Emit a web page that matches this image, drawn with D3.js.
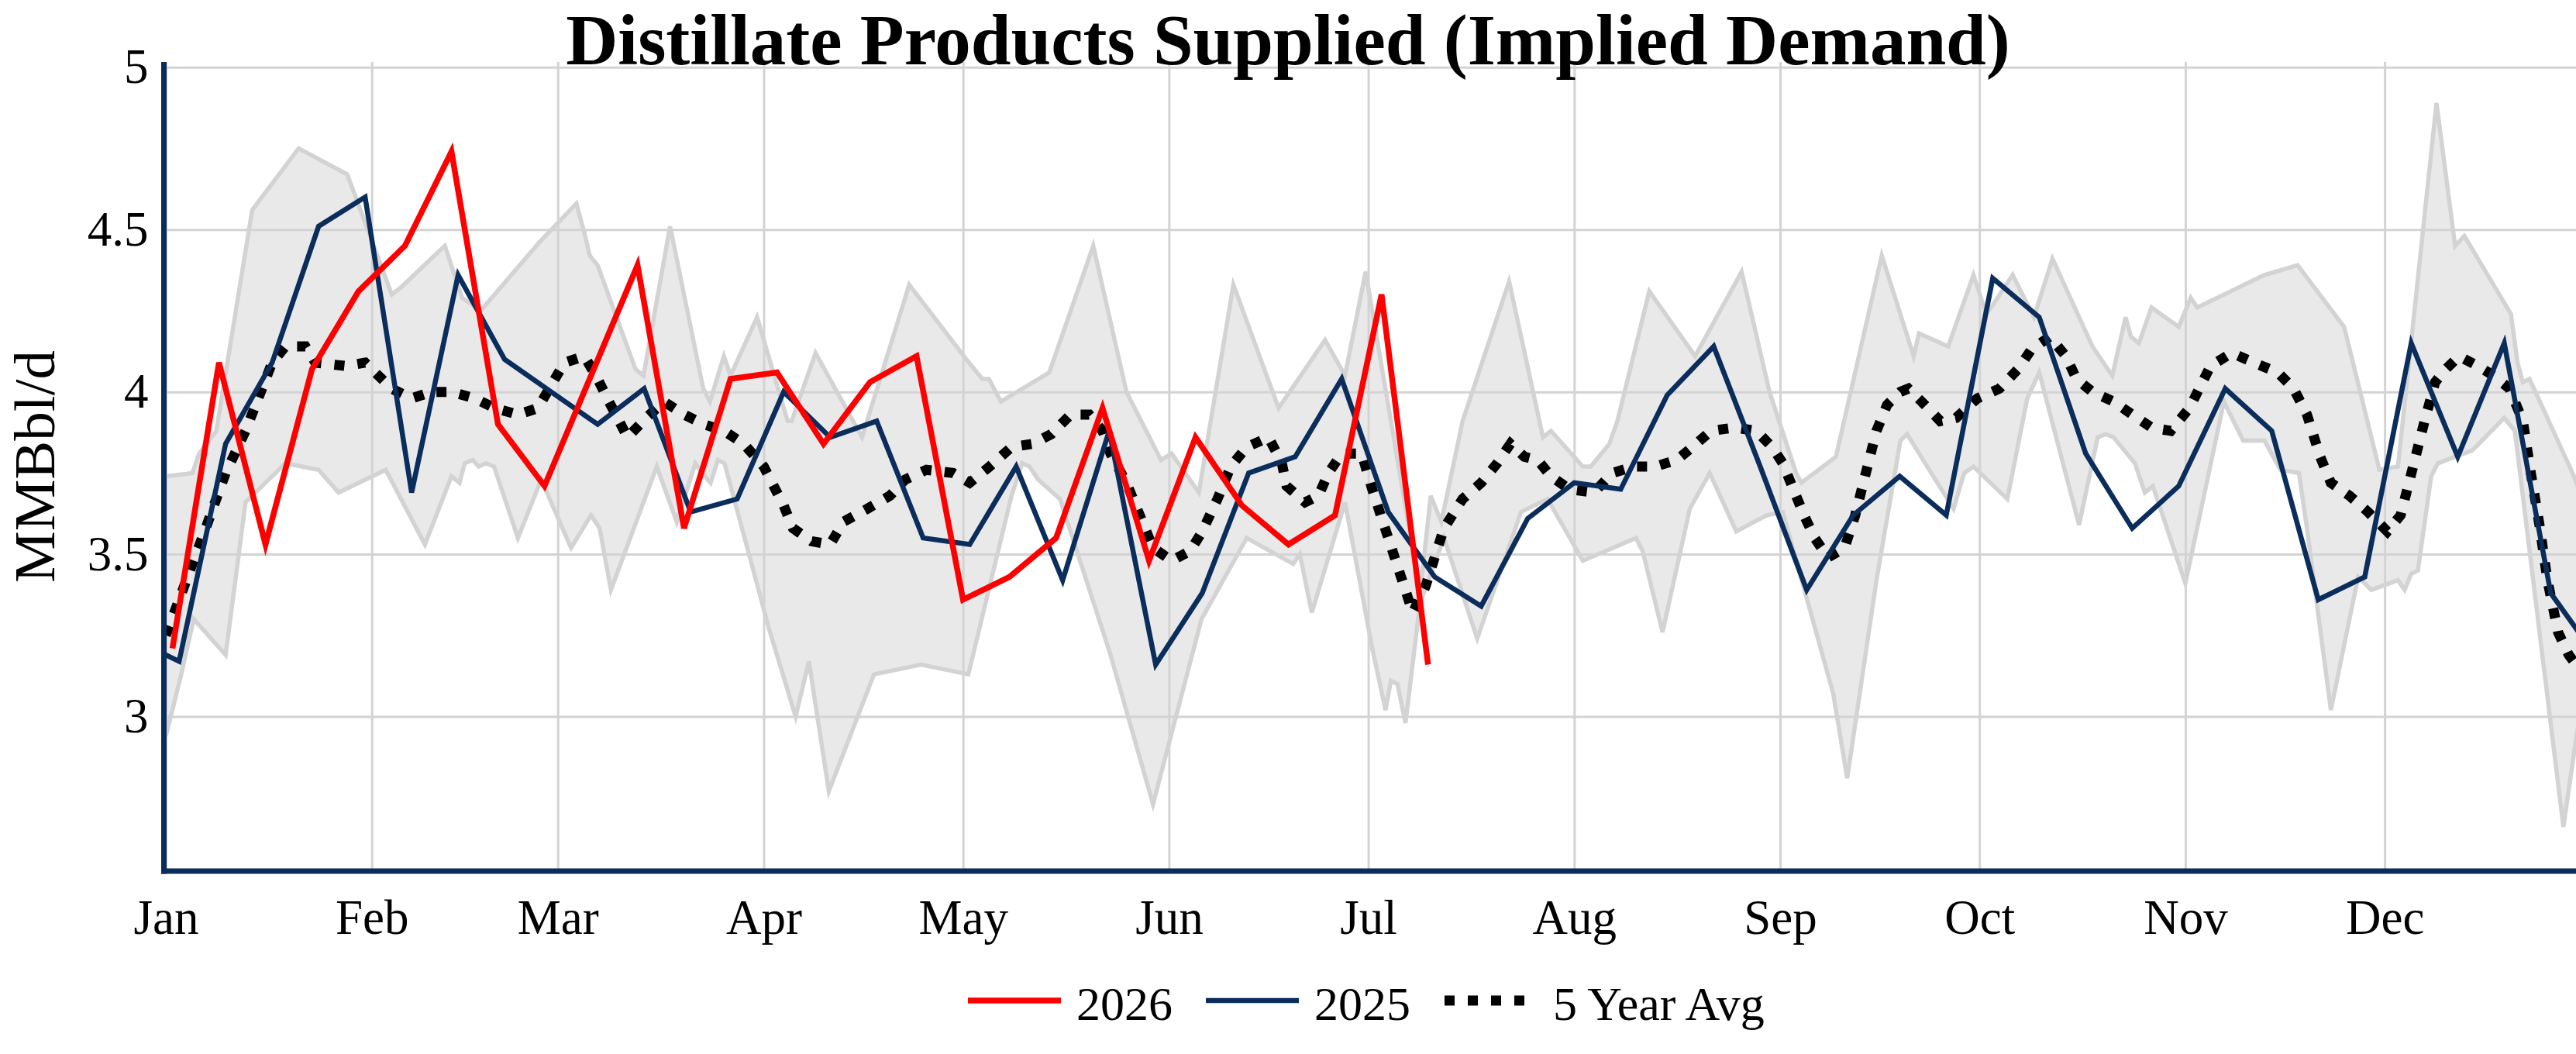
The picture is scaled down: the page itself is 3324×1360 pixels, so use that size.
<!DOCTYPE html>
<html>
<head>
<meta charset="utf-8">
<script src="https://cdn.jsdelivr.net/npm/d3@7"></script>
<style>
  html, body { margin: 0; padding: 0; background: #fff; }
  svg { display: block; }
</style>
</head>
<body>
<div id="chart"></div>
<script>
// Weekly values, MMBbl/d. x positions are days from Jan 1 on a shared calendar year.
const first2026Day = 1;   // Fri Jan 2
const values2026 = [3.21, 4.09, 3.53, 4.07, 4.31, 4.45, 4.74, 3.90, 3.71, 4.05, 4.39, 3.58, 4.04, 4.06,
    3.84, 4.03, 4.11, 3.36, 3.43, 3.55, 3.95, 3.48, 3.86, 3.65, 3.53, 3.62, 4.30, 3.16];

const first2025Day = -5;  // Dec 27 carry-in, then Fri Jan 3 ...
const values2025 = [3.24, 3.17, 3.84, 4.09, 4.51, 4.60, 3.69, 4.36, 4.10, 4.00, 3.90, 4.01, 3.63, 3.67,
    4.00, 3.86, 3.91, 3.55, 3.53, 3.77, 3.42, 3.88, 3.16, 3.38, 3.75, 3.80, 4.04, 3.63, 3.43, 3.34,
    3.61, 3.72, 3.70, 3.99, 4.14, 3.77, 3.39, 3.62, 3.74, 3.62, 4.35, 4.23, 3.81, 3.58, 3.71, 4.01,
    3.88, 3.36, 3.43, 4.15, 3.80, 4.15, 3.38, 3.18];

const avgDays = [0, 6, 9, 12, 16, 18, 21, 22.5, 27, 30, 34, 37, 40, 43, 46.5, 49.5, 53, 56, 60, 63, 65,
    66.7, 69.5, 72.3, 75, 78, 81, 84, 87, 90, 93, 94.4, 97.2, 100, 102, 105.6, 109, 111.3, 114.5, 118.5,
    121, 124, 127.3, 130.5, 133.3, 136.2, 139, 141, 142.2, 144.6, 147, 148.6, 151.4, 154.2, 156, 158.3,
    160.3, 162.7, 166, 168, 168.7, 171.5, 173.5, 175, 177, 180, 181.6, 187.7, 189.6, 192.4, 195.2, 198,
    200.4, 202.4, 204.5, 206.5, 208.5, 211.3, 215, 217.7, 221, 224.2, 227.4, 229.8, 232.6, 236.2, 239.4,
    241.8, 243.4, 245, 246.6, 248.2, 250.2, 252.7, 254.3, 255.9, 257.5, 259.1, 261.1, 262.3, 264.3,
    267.1, 269.5, 272.7, 276, 278.8, 280.8, 283.6, 286, 287.6, 290, 293.2, 296, 298.9, 301.8, 304.6,
    307.8, 311, 314.3, 317.9, 320.3, 322.3, 324.3, 325.9, 328.7, 331.5, 334.4, 336.4, 338.4, 340, 341.6,
    343.2, 345.2, 348, 350.4, 352.8, 354.8, 356, 357.3, 358.5, 360.1, 361.7, 362.8];
const avgValues = [3.25, 3.58, 3.75, 3.88, 4.09, 4.14, 4.14, 4.09, 4.08, 4.09, 4.01, 3.98, 4.00, 4.00,
    3.98, 3.95, 3.93, 3.95, 4.09, 4.11, 4.04, 3.97, 3.86, 3.92, 3.97, 3.93, 3.90, 3.88, 3.84, 3.77, 3.65,
    3.58, 3.54, 3.53, 3.60, 3.64, 3.68, 3.73, 3.76, 3.75, 3.72, 3.77, 3.83, 3.84, 3.87, 3.93, 3.93, 3.88,
    3.81, 3.72, 3.60, 3.52, 3.48, 3.51, 3.57, 3.67, 3.77, 3.83, 3.86, 3.78, 3.71, 3.66, 3.68, 3.75, 3.81,
    3.81, 3.70, 3.32, 3.40, 3.58, 3.67, 3.72, 3.78, 3.84, 3.80, 3.79, 3.74, 3.70, 3.69, 3.75, 3.77, 3.77,
    3.79, 3.83, 3.88, 3.89, 3.88, 3.83, 3.78, 3.70, 3.62, 3.55, 3.49, 3.52, 3.62, 3.75, 3.88, 3.96, 4.00,
    4.01, 3.97, 3.91, 3.92, 3.98, 4.01, 4.07, 4.13, 4.17, 4.11, 4.04, 4.00, 3.97, 3.93, 3.89, 3.88, 3.95,
    4.08, 4.12, 4.09, 4.06, 4.01, 3.93, 3.80, 3.72, 3.68, 3.63, 3.57, 3.62, 3.78, 3.91, 4.03, 4.07, 4.11,
    4.08, 4.05, 4.01, 3.91, 3.75, 3.59, 3.42, 3.26, 3.19, 3.16];

// 5 year range (max / min)
const maxDays = [0, 4, 5, 7.6, 13, 20, 27.3, 34, 35.3, 42, 44.6, 47.4, 56.2, 61.8, 63, 63.8, 65, 70.7,
    71.9, 75.9, 80.9, 81.9, 84, 85, 89, 93.6, 94.2, 97.8, 104.8, 111.9, 120.5, 122.9, 123.9, 125.7, 133,
    139.6, 144.6, 149.8, 151.4, 155.5, 160.7, 167.5, 174.5, 177.5, 180.6, 188.8, 190.4, 192, 195.2, 202.2,
    207.3, 208.5, 213.3, 214.5, 217.3, 218.5, 223.3, 230.2, 237.2, 241.4, 245.4, 246.2, 251.4, 258.3,
    263.1, 263.9, 268.3, 272.1, 274, 275.1, 278, 281.2, 284, 290, 293, 295, 295.8, 297, 298.9, 303,
    304.8, 305.8, 315.9, 320.9, 327.9, 333.2, 336, 341.8, 344.6, 346, 353, 354, 354.8, 355.8, 362.5, 365];
const maxValues = [3.74, 3.75, 3.81, 3.88, 4.56, 4.75, 4.67, 4.30, 4.32, 4.45, 4.29, 4.25, 4.46, 4.58,
    4.49, 4.42, 4.39, 4.07, 4.05, 4.51, 4.01, 3.97, 4.11, 4.05, 4.23, 3.91, 3.91, 4.12, 3.86, 4.33, 4.10,
    4.04, 4.04, 3.97, 4.06, 4.45, 4.00, 3.79, 3.81, 3.69, 4.33, 3.95, 4.16, 4.05, 4.37, 3.38, 3.68, 3.60,
    3.91, 4.34, 3.86, 3.88, 3.77, 3.77, 3.84, 3.91, 4.31, 4.11, 4.37, 4.00, 3.75, 3.72, 3.80, 4.42, 4.11,
    4.18, 4.14, 4.36, 4.24, 4.27, 4.36, 4.23, 4.41, 4.14, 4.05, 4.23, 4.17, 4.15, 4.26, 4.20, 4.29, 4.26,
    4.36, 4.39, 4.20, 3.76, 3.77, 4.89, 4.45, 4.48, 4.24, 4.09, 4.03, 4.04, 3.74, 3.60];
const minDays = [0, 2.2, 4.2, 9, 12, 18, 23, 26, 33.1, 39, 43, 44.2, 45, 46.2, 47.1, 48.2, 49.4, 53, 56.5,
    61, 64, 65.3, 67, 73.9, 76.9, 79.7, 80.7, 82, 83.1, 84.1, 90.8, 94.8, 96.8, 99.8, 106.6, 113.7, 120.8,
    127.3, 128.9, 130, 131.3, 134.6, 142.2, 148.6, 155.9, 162.7, 169.7, 170.7, 172.5, 177.5, 181.6, 183.6,
    184.4, 185.4, 186.6, 188.8, 192.4, 197.4, 204, 208, 213.3, 221.3, 222.3, 225.3, 229.4, 232.4, 236.4,
    241, 243.4, 251, 253.1, 257.5, 261.1, 262.1, 269.1, 270.7, 272.1, 277.2, 280.2, 282, 288, 290.8, 292,
    293.2, 296.4, 297.9, 299.1, 304, 309.8, 312.7, 315.9, 318.3, 321.1, 322.3, 325.9, 330, 332, 336, 337,
    338, 339, 341, 342, 347.2, 352, 353.6, 360.9, 362.8, 365];
const minValues = [2.94, 3.12, 3.30, 3.19, 3.66, 3.78, 3.76, 3.69, 3.76, 3.53, 3.74, 3.72, 3.78, 3.79,
    3.77, 3.78, 3.77, 3.55, 3.73, 3.52, 3.62, 3.58, 3.39, 3.77, 3.60, 3.78, 3.75, 3.72, 3.79, 3.78, 3.27,
    3.00, 3.17, 2.77, 3.13, 3.16, 3.13, 3.68, 3.78, 3.77, 3.73, 3.67, 3.19, 2.73, 3.30, 3.55, 3.47, 3.50,
    3.32, 3.66, 3.21, 3.02, 3.11, 3.10, 2.98, 3.35, 3.55, 3.24, 3.63, 3.67, 3.48, 3.55, 3.51, 3.26, 3.64,
    3.75, 3.57, 3.62, 3.63, 3.07, 2.81, 3.42, 3.85, 3.87, 3.64, 3.75, 3.77, 3.67, 3.98, 4.06, 3.59, 3.86,
    3.87, 3.86, 3.78, 3.69, 3.71, 3.41, 3.97, 3.85, 3.85, 3.76, 3.75, 3.58, 3.02, 3.43, 3.39, 3.42, 3.39,
    3.44, 3.45, 3.74, 3.78, 3.82, 3.92, 3.88, 2.66, 2.93, 3.20];

const yTicks = [3, 3.5, 4, 4.5, 5];
const legendLabels = ["2026", "2025", "5 Year Avg"];
const titleText = "Distillate Products Supplied (Implied Demand)";
const yAxisTitle = "MMBbl/d";

// ---- layout / styles ----
const W = 3324, H = 1360;
const plot = { left: 211.5, right: 3324, top: 80, bottom: 1124 };
const FONT = "'Liberation Serif', 'Times New Roman', Times, serif";
const RED = "#ff0000";
const NAVY = "#0a2d5c";
const GRID = "#d3d3d3";

const DAY = 864e5;
const YEAR_START = Date.UTC(2026, 0, 1);
const dayToDate = d => new Date(YEAR_START + d * DAY);

const x = d3.scaleUtc()
    .domain([dayToDate(-0.29), dayToDate(362.8)])
    .range([plot.left, plot.right]);
const y = d3.scaleLinear()
    .domain([2.524, 5.016])
    .range([plot.bottom, plot.top]);

const svg = d3.select("#chart").append("svg")
    .attr("width", W)
    .attr("height", H)
    .style("font-family", FONT);

svg.append("rect").attr("width", W).attr("height", H).attr("fill", "#fff");

svg.append("defs").append("clipPath").attr("id", "plot-clip")
    .append("rect")
    .attr("x", plot.left).attr("y", plot.top)
    .attr("width", plot.right - plot.left).attr("height", plot.bottom - plot.top);

// Grid + tick labels
const monthTicks = d3.utcMonth.range(dayToDate(0), dayToDate(365));
const gx = svg.append("g")
    .attr("transform", `translate(0,${plot.bottom})`)
    .call(d3.axisBottom(x)
        .tickValues(monthTicks)
        .tickFormat(d3.utcFormat("%b"))
        .tickSize(-(plot.bottom - plot.top))
        .tickPadding(36));
gx.attr("font-family", null);
gx.select(".domain").remove();
gx.selectAll(".tick line").attr("stroke", GRID).attr("stroke-width", 3);
gx.selectAll(".tick text")
    .attr("fill", "#000").attr("font-size", 63).style("font-family", FONT);

const gy = svg.append("g")
    .attr("transform", `translate(${plot.left},0)`)
    .call(d3.axisLeft(y)
        .tickValues(yTicks)
        .tickFormat(d3.format(""))
        .tickSize(-(plot.right - plot.left))
        .tickPadding(20));
gy.attr("font-family", null);
gy.select(".domain").remove();
gy.selectAll(".tick line").attr("stroke", GRID).attr("stroke-width", 3);
gy.selectAll(".tick text")
    .attr("fill", "#000").attr("font-size", 63).style("font-family", FONT);

// Series
const g = svg.append("g").attr("clip-path", "url(#plot-clip)");

const pairs = (days, vals) => days.map((d, i) => [d, vals[i]]);
const weekly = (firstDay, vals) => vals.map((v, i) => [firstDay + 7 * i, v]);

const line = d3.line()
    .x(p => x(dayToDate(p[0])))
    .y(p => y(p[1]));

const maxPts = pairs(maxDays, maxValues);
const minPts = pairs(minDays, minValues);

// range band: max edge forward, min edge back
g.append("path")
    .attr("d", line(maxPts.concat(minPts.slice().reverse())) + "Z")
    .attr("fill", "rgba(211,211,211,0.5)")
    .attr("stroke", "none");

[maxPts, minPts].forEach(pts => {
    g.append("path")
        .attr("d", line(pts))
        .attr("fill", "none")
        .attr("stroke", GRID)
        .attr("stroke-width", 5.5);
});

g.append("path")
    .attr("d", line(pairs(avgDays, avgValues)))
    .attr("fill", "none")
    .attr("stroke", "#000")
    .attr("stroke-width", 13)
    .attr("stroke-dasharray", "13,17");

g.append("path")
    .attr("d", line(weekly(first2025Day, values2025)))
    .attr("fill", "none")
    .attr("stroke", NAVY)
    .attr("stroke-width", 6.5);

g.append("path")
    .attr("d", line(weekly(first2026Day, values2026)))
    .attr("fill", "none")
    .attr("stroke", RED)
    .attr("stroke-width", 7.5);

// Axis lines
svg.append("line")
    .attr("x1", plot.left).attr("x2", plot.left)
    .attr("y1", plot.top).attr("y2", plot.bottom + 3.5)
    .attr("stroke", NAVY).attr("stroke-width", 7);
svg.append("line")
    .attr("x1", plot.left - 3.5).attr("x2", plot.right)
    .attr("y1", plot.bottom).attr("y2", plot.bottom)
    .attr("stroke", NAVY).attr("stroke-width", 7);

// Title (kept just inside the top edge)
svg.append("text")
    .attr("x", W / 2)
    .attr("y", 83)
    .attr("text-anchor", "middle")
    .attr("font-size", 93)
    .attr("font-weight", "bold")
    .attr("fill", "#000")
    .text(titleText);

// Y axis title
svg.append("text")
    .attr("transform", `translate(70,${(plot.top + plot.bottom) / 2}) rotate(-90)`)
    .attr("text-anchor", "middle")
    .attr("font-size", 75)
    .attr("fill", "#000")
    .text(yAxisTitle);

// Legend
const legendStyles = [
    { color: RED, width: 7.5, dash: null, x0: 1249, len: 120 },
    { color: NAVY, width: 6.5, dash: null, x0: 1556, len: 120 },
    { color: "#000", width: 13, dash: "13,17", x0: 1864, len: 112 },
];
const legendY = 1291;
const legend = svg.append("g");
legendLabels.forEach((label, i) => {
    const s = legendStyles[i];
    legend.append("line")
        .attr("x1", s.x0).attr("x2", s.x0 + s.len)
        .attr("y1", legendY).attr("y2", legendY)
        .attr("stroke", s.color)
        .attr("stroke-width", s.width)
        .attr("stroke-dasharray", s.dash);
    legend.append("text")
        .attr("x", s.x0 + 140)
        .attr("y", 1316)
        .attr("font-size", 62)
        .attr("fill", "#000")
        .text(label);
});
</script>
</body>
</html>
